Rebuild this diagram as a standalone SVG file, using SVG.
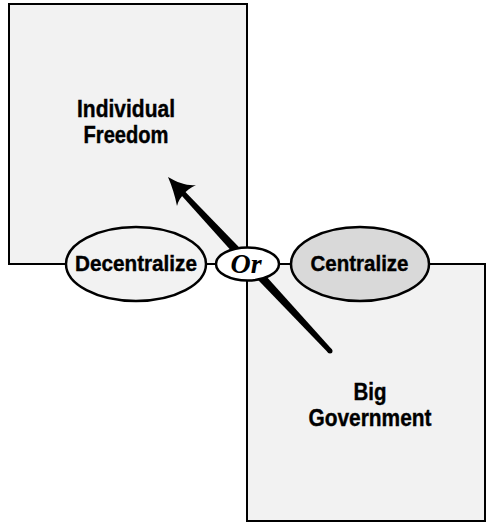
<svg xmlns="http://www.w3.org/2000/svg" width="491" height="524" viewBox="0 0 491 524">
<style>
.box{fill:#f2f2f2;stroke:#000;stroke-width:2}
.ell{stroke:#000;stroke-width:2.5}
.lbl{font-family:"Liberation Sans",Arial,sans-serif;font-weight:bold;font-size:24px;fill:#000;stroke:#000;stroke-width:0.4;text-anchor:middle}
.sm{font-size:22px}
.or{font-family:"Liberation Serif","Times New Roman",serif;font-weight:bold;font-style:italic;font-size:28px;fill:#000;text-anchor:middle}
</style>
<rect width="491" height="524" fill="#fff"/>
<g id="individual-freedom">
<rect class="box" x="9" y="4" width="238" height="260"/>
<text class="lbl" x="126" y="117" textLength="98" lengthAdjust="spacingAndGlyphs">Individual</text>
<text class="lbl" x="126" y="143" textLength="85" lengthAdjust="spacingAndGlyphs">Freedom</text>
</g>
<g id="big-government">
<rect class="box" x="247" y="264" width="238" height="257"/>
<text class="lbl" x="370" y="400" textLength="33" lengthAdjust="spacingAndGlyphs">Big</text>
<text class="lbl" x="370" y="426" textLength="123" lengthAdjust="spacingAndGlyphs">Government</text>
</g>
<g id="connectors">
<line x1="9" y1="264" x2="485" y2="264" stroke="#000" stroke-width="2"/>
<path d="M331.8,349.3 L253.3,261.9 L181.8,188.3 L178.2,191.7 L246.7,268.1 L328.2,352.7 Z" fill="#000"/>
<circle cx="330" cy="351" r="2.5" fill="#000"/>
<path d="M168,177 C178,183 188,186 196,185 C190,188 186,191 184,194 C181,197 178,201 177,206 C175,196 172,186 168,177 Z" fill="#000"/>
</g>
<g id="decentralize">
<ellipse class="ell" cx="136" cy="264" rx="70" ry="37" fill="#f2f2f2"/>
<text class="lbl sm" x="136" y="271" textLength="122" lengthAdjust="spacingAndGlyphs">Decentralize</text>
</g>
<g id="or">
<ellipse class="ell" cx="247.5" cy="264" rx="31.5" ry="16.5" fill="#fff"/>
<text class="or" x="246" y="273">Or</text>
</g>
<g id="centralize">
<ellipse class="ell" cx="360" cy="264" rx="69" ry="37" fill="#d9d9d9"/>
<text class="lbl sm" x="359.5" y="271" textLength="98" lengthAdjust="spacingAndGlyphs">Centralize</text>
</g>
</svg>
